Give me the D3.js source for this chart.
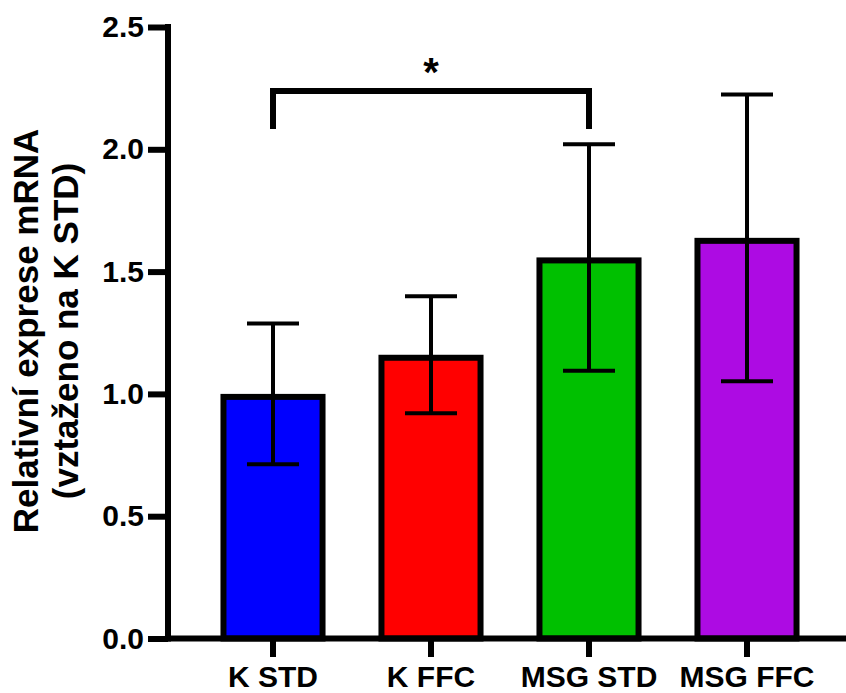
<!DOCTYPE html>
<html>
<head>
<meta charset="utf-8">
<script src="https://cdn.jsdelivr.net/npm/d3@7"></script>
<style>
  body { margin: 0; background: #fff; }
  svg text { font-family: "Liberation Sans", Arial, Helvetica, sans-serif; font-weight: bold; fill: #000; }
</style>
</head>
<body>
<div class="chart"></div>
<script>
//values (relative mRNA expression, mean and SD)
const groups = ["K STD", "K FFC", "MSG STD", "MSG FFC"];
const means = [1.00, 1.16, 1.558, 1.638];
const sds = [0.288, 0.239, 0.463, 0.586];
const colours = ["#0000ff", "#ff0000", "#00c000", "#ad0be3"];
const yTicks = [0, 0.5, 1.0, 1.5, 2.0, 2.5];
const yLabelLines = ["Relativní exprese mRNA", "(vztaženo na K STD)"];
//significance bracket between K STD and MSG STD
const sigPair = ["K STD", "MSG STD"];
const sigTop = 2.238, sigLeg = 2.083, sigMark = "*";

const createChart = () => {
    const width = 846, height = 693;
    const axisX = 168, axisY = 638.5;

    const svg = d3.select(".chart").append("svg")
        .attr("width", width)
        .attr("height", height);

    const x = d3.scaleBand()
        .domain(groups)
        .range([194, 826])
        .paddingInner(0.335)
        .paddingOuter(0.1675);

    const y = d3.scaleLinear()
        .domain([0, 2.5])
        .range([axisY, 27]);

    const data = groups.map((g, i) => ({ name: g, mean: means[i], sd: sds[i], colour: colours[i] }));

    //bars, outline drawn inside the bar
    svg.selectAll("rect.bar")
        .data(data).enter()
        .append("rect")
        .attr("class", "bar")
        .attr("x", d => x(d.name) + 3)
        .attr("y", d => y(d.mean) + 3)
        .attr("width", x.bandwidth() - 6)
        .attr("height", d => axisY - y(d.mean) - 3)
        .attr("fill", d => d.colour)
        .attr("stroke", "black")
        .attr("stroke-width", 6);

    //error bars
    const err = svg.selectAll("g.err")
        .data(data).enter()
        .append("g")
        .attr("class", "err")
        .attr("transform", d => `translate(${x(d.name) + x.bandwidth() / 2},0)`);

    err.append("line")
        .attr("y1", d => y(d.mean - d.sd))
        .attr("y2", d => y(d.mean + d.sd))
        .attr("stroke", "black")
        .attr("stroke-width", 4);

    [1, -1].forEach(sign => {
        err.append("line")
            .attr("x1", -26)
            .attr("x2", 26)
            .attr("y1", d => y(d.mean + sign * d.sd))
            .attr("y2", d => y(d.mean + sign * d.sd))
            .attr("stroke", "black")
            .attr("stroke-width", 4);
    });

    //significance bracket
    const bx1 = x(sigPair[0]) + x.bandwidth() / 2;
    const bx2 = x(sigPair[1]) + x.bandwidth() / 2;
    svg.append("path")
        .attr("d", `M${bx1},${y(sigLeg)}V${y(sigTop)}H${bx2}V${y(sigLeg)}`)
        .attr("fill", "none")
        .attr("stroke", "black")
        .attr("stroke-width", 6);

    svg.append("text")
        .attr("x", (bx1 + bx2) / 2)
        .attr("y", 86)
        .attr("text-anchor", "middle")
        .attr("font-size", 40)
        .text(sigMark);

    //y axis
    const yAxis = svg.append("g")
        .attr("transform", `translate(${axisX},0)`)
        .call(d3.axisLeft(y)
            .tickValues(yTicks)
            .tickFormat(d3.format(".1f"))
            .tickSize(20)
            .tickSizeOuter(0)
            .tickPadding(4));
    yAxis.select(".domain").remove();
    yAxis.selectAll(".tick line").attr("stroke", "black").attr("stroke-width", 6);
    yAxis.selectAll(".tick text").attr("font-size", 30);

    //x axis
    const xAxis = svg.append("g")
        .attr("transform", `translate(0,${axisY})`)
        .call(d3.axisBottom(x)
            .tickSize(18.5)
            .tickSizeOuter(0)
            .tickPadding(8.7));
    xAxis.select(".domain").remove();
    xAxis.selectAll(".tick line").attr("stroke", "black").attr("stroke-width", 6);
    xAxis.selectAll(".tick text").attr("font-size", 30);

    //axis lines
    svg.append("line")
        .attr("x1", axisX).attr("x2", axisX)
        .attr("y1", y(2.5) - 3).attr("y2", axisY + 3)
        .attr("stroke", "black").attr("stroke-width", 6);
    svg.append("line")
        .attr("x1", axisX - 3).attr("x2", width)
        .attr("y1", axisY).attr("y2", axisY)
        .attr("stroke", "black").attr("stroke-width", 6);

    //y axis title, two lines
    const title = svg.append("text")
        .attr("transform", `translate(38,331) rotate(-90)`)
        .attr("text-anchor", "middle")
        .attr("font-size", 35);
    title.append("tspan").attr("x", 0).attr("y", 0).text(yLabelLines[0]);
    title.append("tspan").attr("x", 0).attr("y", 40).text(yLabelLines[1]);
};

createChart();
</script>
</body>
</html>
